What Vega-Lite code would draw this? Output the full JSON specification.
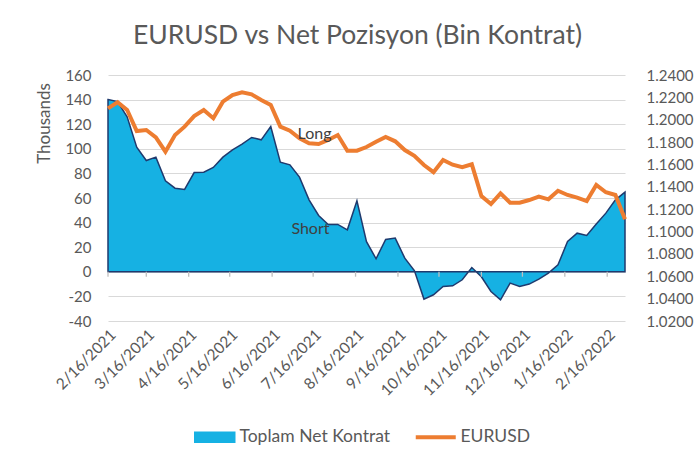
{
  "$schema": "https://vega.github.io/schema/vega-lite/v6.json",
  "autosize": {"type": "none"},
  "padding": {"left": 108, "top": 75, "right": 75, "bottom": 143},
  "width": 517,
  "height": 246,
  "background": "white",
  "config": {
    "view": {"stroke": null},
    "font": "Lato",
    "axis": {"labelColor": "#595959", "labelFont": "Lato", "labelFontSize": 15, "labelOverlap": false, "titleColor": "#595959", "titleFont": "Lato", "titleFontWeight": "normal"},
    "legend": {"labelColor": "#595959", "labelFont": "Lato", "labelFontSize": 17.5}
  },
  "title": {"text": "EURUSD vs Net Pozisyon (Bin Kontrat)", "fontSize": 26.5, "font": "Lato", "fontWeight": "normal", "color": "#595959", "anchor": "middle", "dx": -9, "offset": 19},
  "datasets": {
    "main": [
      {"date": "2021-02-16", "net": 140, "eurusd": 1.2102},
      {"date": "2021-02-23", "net": 138.4, "eurusd": 1.2156},
      {"date": "2021-03-02", "net": 126, "eurusd": 1.2087},
      {"date": "2021-03-09", "net": 101.3, "eurusd": 1.1899},
      {"date": "2021-03-16", "net": 90.5, "eurusd": 1.1908},
      {"date": "2021-03-23", "net": 93.2, "eurusd": 1.1843},
      {"date": "2021-03-30", "net": 74, "eurusd": 1.1714},
      {"date": "2021-04-06", "net": 68, "eurusd": 1.1863},
      {"date": "2021-04-13", "net": 67, "eurusd": 1.1938},
      {"date": "2021-04-20", "net": 80.7, "eurusd": 1.2033},
      {"date": "2021-04-27", "net": 81, "eurusd": 1.2087},
      {"date": "2021-05-04", "net": 84.8, "eurusd": 1.2013},
      {"date": "2021-05-11", "net": 93.2, "eurusd": 1.2161},
      {"date": "2021-05-18", "net": 99.1, "eurusd": 1.2221},
      {"date": "2021-05-25", "net": 103.8, "eurusd": 1.2245},
      {"date": "2021-06-01", "net": 109.2, "eurusd": 1.2227},
      {"date": "2021-06-08", "net": 107.3, "eurusd": 1.2176},
      {"date": "2021-06-15", "net": 118.1, "eurusd": 1.2132},
      {"date": "2021-06-22", "net": 89.1, "eurusd": 1.1938},
      {"date": "2021-06-29", "net": 87, "eurusd": 1.1902},
      {"date": "2021-07-06", "net": 77, "eurusd": 1.1834},
      {"date": "2021-07-13", "net": 58.5, "eurusd": 1.1789},
      {"date": "2021-07-20", "net": 45.8, "eurusd": 1.1783},
      {"date": "2021-07-27", "net": 38.5, "eurusd": 1.1819},
      {"date": "2021-08-03", "net": 38.5, "eurusd": 1.1863},
      {"date": "2021-08-10", "net": 34.1, "eurusd": 1.1723},
      {"date": "2021-08-17", "net": 57.7, "eurusd": 1.1723},
      {"date": "2021-08-24", "net": 24.5, "eurusd": 1.1756},
      {"date": "2021-08-31", "net": 10.6, "eurusd": 1.1803},
      {"date": "2021-09-07", "net": 26.3, "eurusd": 1.1846},
      {"date": "2021-09-14", "net": 27.4, "eurusd": 1.1807},
      {"date": "2021-09-21", "net": 11.1, "eurusd": 1.1729},
      {"date": "2021-09-28", "net": 1, "eurusd": 1.1677},
      {"date": "2021-10-05", "net": -22.2, "eurusd": 1.1595},
      {"date": "2021-10-12", "net": -18.7, "eurusd": 1.1531},
      {"date": "2021-10-19", "net": -11.9, "eurusd": 1.164},
      {"date": "2021-10-26", "net": -11.4, "eurusd": 1.1598},
      {"date": "2021-11-02", "net": -6.5, "eurusd": 1.1575},
      {"date": "2021-11-09", "net": 3.5, "eurusd": 1.1601},
      {"date": "2021-11-16", "net": -4, "eurusd": 1.1318},
      {"date": "2021-11-23", "net": -16, "eurusd": 1.1246},
      {"date": "2021-11-30", "net": -22.8, "eurusd": 1.1342},
      {"date": "2021-12-07", "net": -9.2, "eurusd": 1.1258},
      {"date": "2021-12-14", "net": -11.9, "eurusd": 1.1258},
      {"date": "2021-12-21", "net": -10, "eurusd": 1.1282},
      {"date": "2021-12-28", "net": -5.9, "eurusd": 1.1312},
      {"date": "2022-01-04", "net": -1, "eurusd": 1.1288},
      {"date": "2022-01-11", "net": 5.7, "eurusd": 1.1365},
      {"date": "2022-01-18", "net": 24.6, "eurusd": 1.1327},
      {"date": "2022-01-25", "net": 31.4, "eurusd": 1.1303},
      {"date": "2022-02-01", "net": 29.5, "eurusd": 1.1273},
      {"date": "2022-02-08", "net": 38.8, "eurusd": 1.1416},
      {"date": "2022-02-15", "net": 47.7, "eurusd": 1.1351},
      {"date": "2022-02-22", "net": 58.5, "eurusd": 1.1327},
      {"date": "2022-03-01", "net": 64.8, "eurusd": 1.111}
    ],
    "months": [
      {"date": "2021-02-16"}, {"date": "2021-03-16"}, {"date": "2021-04-16"}, {"date": "2021-05-16"},
      {"date": "2021-06-16"}, {"date": "2021-07-16"}, {"date": "2021-08-16"}, {"date": "2021-09-16"},
      {"date": "2021-10-16"}, {"date": "2021-11-16"}, {"date": "2021-12-16"}, {"date": "2022-01-16"},
      {"date": "2022-02-16"}
    ],
    "notes": [
      {"date": "2021-07-17", "eurusd": 1.1872, "label": "Long"},
      {"date": "2021-07-14", "eurusd": 1.1023, "label": "Short"}
    ]
  },
  "layer": [
    {
      "layer": [
        {
          "data": {"name": "main"},
          "mark": {"type": "area", "stroke": "#1F3A6E", "strokeWidth": 1.5, "opacity": 1, "fillOpacity": 1},
          "encoding": {
            "x": {"field": "date", "type": "temporal", "scale": {"type": "utc", "domain": [{"year": 2021, "month": 2, "date": 16, "utc": true}, {"year": 2022, "month": 3, "date": 1, "utc": true}]},
              "axis": {"format": "%-m/%-d/%Y", "labelAngle": -45, "labelPadding": 6, "labelFontSize": 15.5, "labelOverlap": false, "tickCount": 30, "domain": false, "ticks": false, "grid": false, "title": null,
                "values": [
                  {"year": 2021, "month": 2, "date": 16, "utc": true}, {"year": 2021, "month": 3, "date": 16, "utc": true}, {"year": 2021, "month": 4, "date": 16, "utc": true},
                  {"year": 2021, "month": 5, "date": 16, "utc": true}, {"year": 2021, "month": 6, "date": 16, "utc": true}, {"year": 2021, "month": 7, "date": 16, "utc": true},
                  {"year": 2021, "month": 8, "date": 16, "utc": true}, {"year": 2021, "month": 9, "date": 16, "utc": true}, {"year": 2021, "month": 10, "date": 16, "utc": true},
                  {"year": 2021, "month": 11, "date": 16, "utc": true}, {"year": 2021, "month": 12, "date": 16, "utc": true}, {"year": 2022, "month": 1, "date": 16, "utc": true},
                  {"year": 2022, "month": 2, "date": 16, "utc": true}
                ]}},
            "y": {"field": "net", "type": "quantitative", "scale": {"domain": [-40, 160], "nice": false, "zero": false},
              "axis": {"values": [-40, -20, 0, 20, 40, 60, 80, 100, 120, 140, 160], "tickCount": 20, "labelExpr": "datum.value < 0 ? '-' + abs(datum.value) : '' + datum.value", "labelOverlap": false, "grid": true, "gridColor": "#d9d9d9", "gridWidth": 1, "domain": false, "ticks": false, "labelPadding": 17,
                "title": "Thousands", "titleFontSize": 17, "titleAngle": -90, "titleX": -64, "titleY": 48, "titleAlign": "center", "titleBaseline": "middle"}},
            "color": {"datum": "Toplam Net Kontrat", "type": "nominal",
              "scale": {"domain": ["Toplam Net Kontrat", "EURUSD"], "range": ["#16B1E3", "#ED7D31"]},
              "legend": {"orient": "none", "legendX": 103, "legendY": 353, "padding": 0, "direction": "horizontal", "title": null, "symbolSize": 1600, "columnPadding": 16, "labelOffset": 11,
                "encode": {"symbols": {"update": {
                  "shape": {"signal": "datum.value === 'EURUSD' ? 'M-1.25,0H0.75' : 'M-1.25,-0.25H0.75V0.25H-1.25Z'"},
                  "fill": {"signal": "datum.value === 'EURUSD' ? 'transparent' : '#16B1E3'"},
                  "stroke": {"signal": "datum.value === 'EURUSD' ? '#ED7D31' : '#1F3A6E'"},
                  "strokeWidth": {"signal": "datum.value === 'EURUSD' ? 4 : 1.5"},
                  "opacity": {"value": 1}
                }}}}}
          }
        },
        {
          "mark": {"type": "rule", "color": "#bfbfbf", "strokeWidth": 1.3},
          "encoding": {"y": {"datum": 0, "type": "quantitative"}}
        },
        {
          "data": {"name": "months"},
          "mark": {"type": "rule", "color": "#bfbfbf", "strokeWidth": 1.3},
          "encoding": {
            "x": {"field": "date", "type": "temporal"},
            "y": {"datum": 0, "type": "quantitative"},
            "y2": {"datum": -4}
          }
        }
      ]
    },
    {
      "layer": [
        {
          "data": {"name": "main"},
          "mark": {"type": "line", "strokeWidth": 4, "strokeJoin": "miter", "interpolate": "linear"},
          "encoding": {
            "x": {"field": "date", "type": "temporal"},
            "y": {"field": "eurusd", "type": "quantitative", "scale": {"domain": [1.02, 1.24], "nice": false, "zero": false},
              "axis": {"orient": "right", "values": [1.02, 1.04, 1.06, 1.08, 1.1, 1.12, 1.14, 1.16, 1.18, 1.2, 1.22, 1.24], "tickCount": 20, "format": ".4f", "labelOverlap": false, "grid": false, "domain": false, "ticks": false, "labelPadding": 21, "title": null}},
            "color": {"datum": "EURUSD", "type": "nominal",
              "legend": {"orient": "none", "legendX": 103, "legendY": 353, "padding": 0, "direction": "horizontal", "title": null, "symbolSize": 1600, "columnPadding": 16, "labelOffset": 11,
                "encode": {"symbols": {"update": {
                  "shape": {"signal": "datum.value === 'EURUSD' ? 'M-1.25,0H0.75' : 'M-1.25,-0.25H0.75V0.25H-1.25Z'"},
                  "fill": {"signal": "datum.value === 'EURUSD' ? 'transparent' : '#16B1E3'"},
                  "stroke": {"signal": "datum.value === 'EURUSD' ? '#ED7D31' : '#1F3A6E'"},
                  "strokeWidth": {"signal": "datum.value === 'EURUSD' ? 4 : 1.5"},
                  "opacity": {"value": 1}
                }}}}}
          }
        },
        {
          "data": {"name": "notes"},
          "mark": {"type": "text", "fontSize": 16, "font": "Lato", "color": "#404040", "align": "center", "baseline": "middle"},
          "encoding": {
            "x": {"field": "date", "type": "temporal"},
            "y": {"field": "eurusd", "type": "quantitative"},
            "text": {"field": "label"}
          }
        }
      ]
    }
  ],
  "resolve": {"scale": {"y": "independent"}}
}
